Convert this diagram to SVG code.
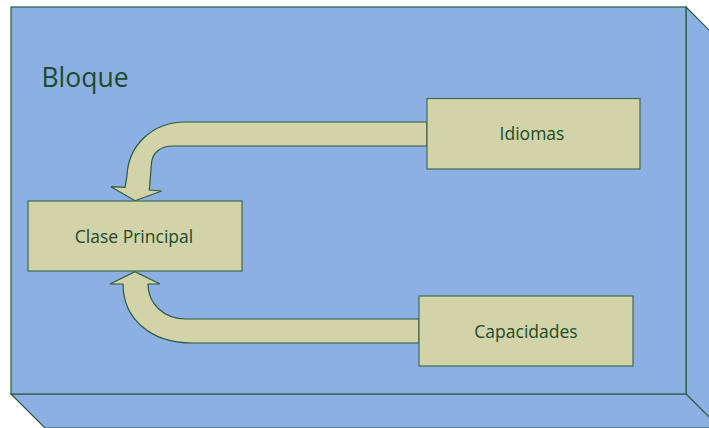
<svg xmlns="http://www.w3.org/2000/svg" width="709" height="428" viewBox="0 0 709 428">
  <style>
    .face { fill: #8db0e3; stroke: #2b5a3c; stroke-width: 1.2; }
    .node { fill: #d3d3aa; stroke: #3f6b4e; stroke-width: 1.2; }
    .arrow { fill: #d3d3aa; stroke: #2b5a3c; stroke-width: 1.2; stroke-linejoin: miter; }
    .label { font-family: "Open Sans", "Liberation Sans", sans-serif; fill: #1c4a2b; text-anchor: middle; }
  </style>

  <!-- container block drawn as a 3D box -->
  <g id="bloque">
    <polygon class="face" points="686,7 720,41 720,428 686,394"/>
    <polygon class="face" points="11,394 686,394 720,428 45,428"/>
    <rect class="face" x="11" y="7" width="675" height="387"/>
    <text class="label" x="85" y="87" font-size="26.5" text-anchor="middle">Bloque</text>
  </g>

  <!-- curved block arrows -->
  <g id="connectors">
    <path class="arrow" d="M427,122 L185,122 C152,122 128,146 127,176 L125,187.3 L111,186.7 L135,200.7 L161.7,191 L149.3,190 L151.5,163 C152.5,153 160,146 173,146 L427,146 Z"/>
    <path class="arrow" d="M419,319 L186,319 C164,319 148,304 148,284 L160,284 L135,271.7 L110,284 L123,284 C123,318 150,343 192,343 L419,343 Z"/>
  </g>

  <g id="clase-principal">
    <rect class="node" x="28" y="201" width="214" height="70"/>
    <text class="label" x="134" y="243" font-size="17.5">Clase Principal</text>
  </g>

  <g id="idiomas">
    <rect class="node" x="427" y="98.5" width="213" height="70.5"/>
    <text class="label" x="532" y="139.5" font-size="17.5">Idiomas</text>
  </g>

  <g id="capacidades">
    <rect class="node" x="419" y="296" width="214" height="70"/>
    <text class="label" x="526" y="337.5" font-size="17.5">Capacidades</text>
  </g>
</svg>
